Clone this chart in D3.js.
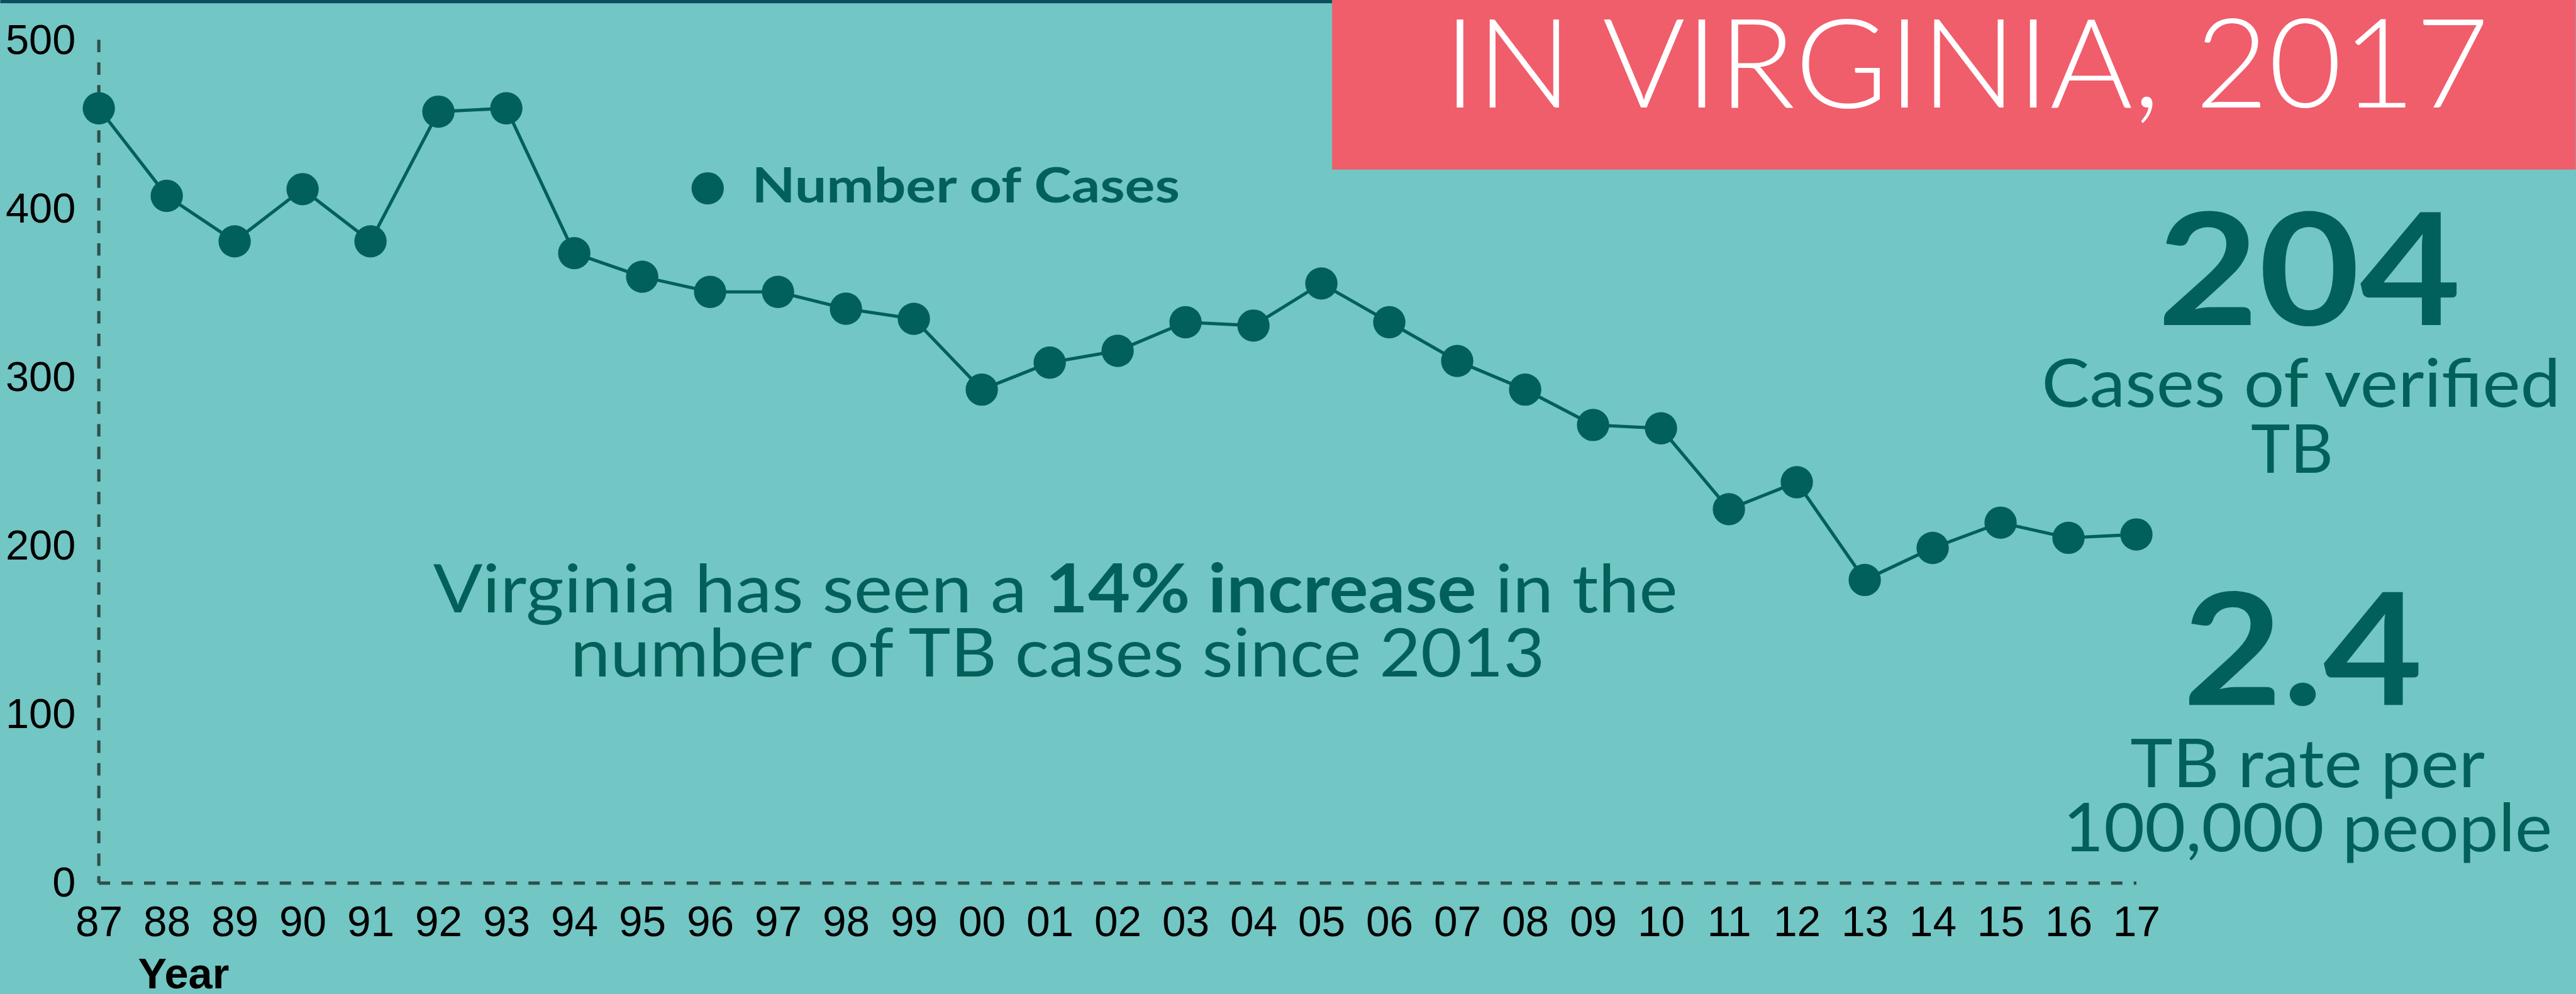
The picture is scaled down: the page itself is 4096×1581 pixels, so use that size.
<!DOCTYPE html>
<html>
<head>
<meta charset="utf-8">
<script src="https://cdn.jsdelivr.net/npm/d3@7"></script>
<style>
  html, body { margin: 0; padding: 0; background: #72c6c4; overflow: hidden; }
  svg { display: block; }
</style>
</head>
<body>
<div id="chart"></div>
<script>
// ---- Data ----
const years = ["87","88","89","90","91","92","93","94","95","96","97","98","99","00","01","02","03","04","05","06","07","08","09","10","11","12","13","14","15","16","17"];
const cases = [460,408,381,412,381,458,460,374,360,351,351,341,335,293,309,316,333,331,356,333,310,293,272,270,222,238,180,199,214,205,207];
const yTicks = [0,100,200,300,400,500];
const seriesName = "Number of Cases";
const headerTitle = "IN VIRGINIA, 2017";
const annotationLine1 = ["Virginia has seen a ", "14% increase", " in the"];
const annotationLine2 = "number of TB cases since 2013";
const statCases = "204";
const statCasesLabel = ["Cases of verified", "TB"];
const statRate = "2.4";
const statRateLabel = ["TB rate per", "100,000 people"];
const xAxisTitle = "Year";

// ---- Setup (reference coordinates, scaled to window by viewBox) ----
const W = 4784, H = 1847;
const BG = "#72c6c4", DARK = "#02605a", AXIS = "#2f4f4c", PINK = "#f05d6b", TOPBAR = "#0b4e5e";
const svg = d3.select("#chart").append("svg")
  .attr("width", 4096).attr("height", 1581)
  .attr("viewBox", `0 0 ${W} ${H}`);

svg.append("rect").attr("width", W).attr("height", H).attr("fill", BG);

const x = d3.scalePoint().domain(years).range([183, 3968]);
const y = d3.scaleLinear().domain([0, 500]).range([1641, 76]);

// top dark bar
svg.append("rect").attr("x", 0).attr("y", 0).attr("width", 2474).attr("height", 6).attr("fill", TOPBAR);

// header
svg.append("rect").attr("x", 2474).attr("y", 0).attr("width", W - 2474).attr("height", 315).attr("fill", PINK);
svg.append("text").attr("x", 3652).attr("y", 200)
  .attr("text-anchor", "middle")
  .attr("font-family", "Lato, 'Open Sans', sans-serif").attr("font-weight", 300)
  .attr("font-size", 230).attr("fill", "#ffffff")
  .attr("textLength", 1942).attr("lengthAdjust", "spacingAndGlyphs")
  .text(headerTitle);

// axes (dashed)
svg.append("line").attr("x1", x(years[0])).attr("x2", x(years[0]))
  .attr("y1", y(500) - 2).attr("y2", y(0))
  .attr("stroke", AXIS).attr("stroke-width", 6).attr("stroke-dasharray", "23,19");
svg.append("line").attr("x1", x(years[0])).attr("x2", x(years[years.length-1]))
  .attr("y1", y(0)).attr("y2", y(0))
  .attr("stroke", AXIS).attr("stroke-width", 6).attr("stroke-dasharray", "21,21");

const yAxis = d3.axisLeft(y).tickValues(yTicks).tickSize(0).tickPadding(0).tickFormat(d3.format("d"));
const gy = svg.append("g").attr("transform", "translate(140,0)").call(yAxis);
gy.select(".domain").remove();
gy.selectAll("text")
  .attr("font-family", "'Liberation Sans', Arial, sans-serif")
  .attr("font-size", 78).attr("fill", "#000").attr("dy", null).attr("y", 24);

const xAxis = d3.axisBottom(x).tickSize(0).tickPadding(0);
const gx = svg.append("g").attr("transform", `translate(0,${y(0)})`).call(xAxis);
gx.select(".domain").remove();
gx.selectAll("text")
  .attr("font-family", "'Liberation Sans', Arial, sans-serif")
  .attr("font-size", 79).attr("fill", "#000").attr("dy", null).attr("y", 99);

svg.append("text").attr("x", 256).attr("y", 1837)
  .attr("font-family", "'Liberation Sans', Arial, sans-serif").attr("font-weight", 700)
  .attr("font-size", 80).attr("fill", "#000").text(xAxisTitle);

// line + points
const line = d3.line().x((d, i) => x(years[i])).y(d => y(d));
svg.append("path").datum(cases).attr("d", line)
  .attr("fill", "none").attr("stroke", DARK).attr("stroke-width", 6);
svg.append("g").selectAll("circle").data(cases).join("circle")
  .attr("cx", (d, i) => x(years[i])).attr("cy", d => y(d)).attr("r", 30).attr("fill", DARK);

// legend
svg.append("circle").attr("cx", 1314).attr("cy", 350).attr("r", 30).attr("fill", DARK);
svg.append("text").attr("x", 1396).attr("y", 376)
  .attr("font-family", "Lato, 'Open Sans', sans-serif").attr("font-weight", 700)
  .attr("font-size", 90).attr("fill", DARK)
  .attr("textLength", 795).attr("lengthAdjust", "spacingAndGlyphs")
  .text(seriesName);

// annotation
const FONT = "Lato, 'Open Sans', sans-serif";
const a1 = svg.append("text").attr("x", 1960).attr("y", 1138).attr("text-anchor", "middle")
  .attr("font-family", FONT).attr("font-size", 125).attr("fill", DARK).attr("font-weight", 400)
  .attr("textLength", 2312).attr("lengthAdjust", "spacingAndGlyphs");
annotationLine1.forEach((s, i) => {
  a1.append("tspan").attr("font-weight", i === 1 ? 700 : 400).text(s);
});
svg.append("text").attr("x", 1964).attr("y", 1257).attr("text-anchor", "middle")
  .attr("font-family", FONT).attr("font-size", 125).attr("fill", DARK).attr("font-weight", 400)
  .attr("textLength", 1810).attr("lengthAdjust", "spacingAndGlyphs")
  .text(annotationLine2);

// right-side stats
function stat(txt, cx, by, size, weight, len) {
  svg.append("text").attr("x", cx).attr("y", by).attr("text-anchor", "middle")
    .attr("font-family", FONT).attr("font-size", size).attr("font-weight", weight)
    .attr("fill", DARK)
    .attr("textLength", len).attr("lengthAdjust", "spacingAndGlyphs")
    .text(txt);
}
stat(statCases, 4289, 604, 290, 700, 564);
stat(statCasesLabel[0], 4274, 756, 124, 400, 964);
stat(statCasesLabel[1], 4257, 878, 124, 400, 153);
stat(statRate, 4277, 1310, 290, 700, 446);
stat(statRateLabel[0], 4286, 1463, 124, 400, 659);
stat(statRateLabel[1], 4286, 1582, 124, 400, 909);
</script>
</body>
</html>
